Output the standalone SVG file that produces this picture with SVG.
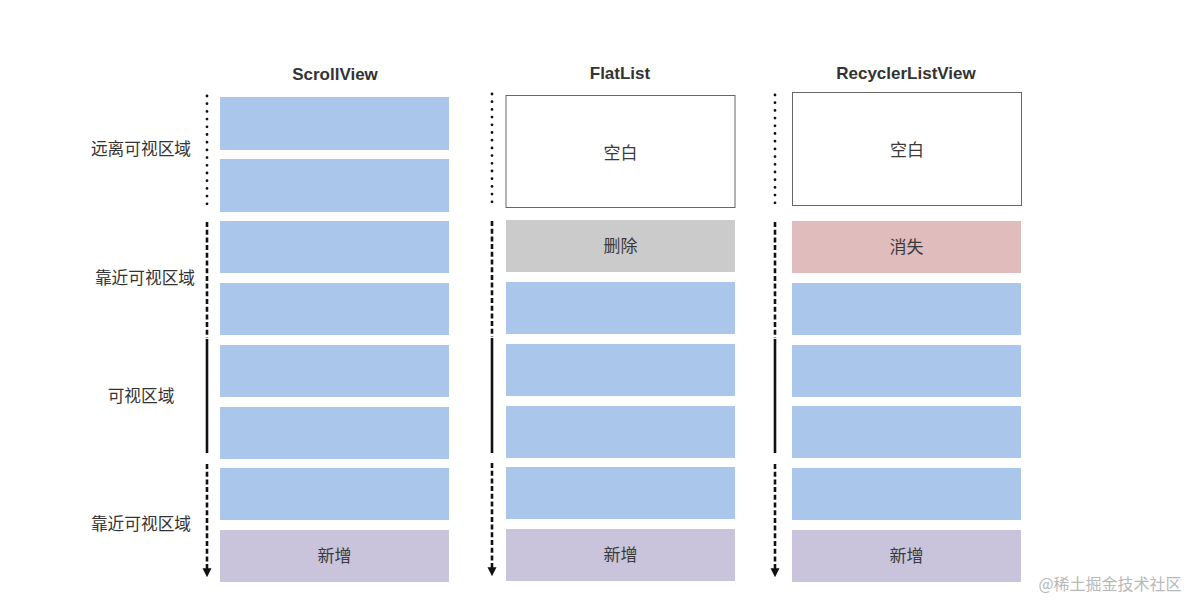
<svg xmlns="http://www.w3.org/2000/svg" width="1200" height="603" viewBox="0 0 1200 603">
<defs>
<marker id="arr" viewBox="0 0 10 10" refX="2" refY="5" markerWidth="9" markerHeight="10" markerUnits="userSpaceOnUse" orient="auto">
<path d="M0,0 L10,5 L0,10 Z" fill="#111"/>
</marker>
<style>
.t{font-family:"Liberation Sans","Noto Sans CJK SC",sans-serif;fill:#333;}
.title{font-size:17px;font-weight:600;text-anchor:middle;}
.lab{font-size:16.7px;text-anchor:middle;}
.in{font-size:17px;text-anchor:middle;fill:#3a3a3a;}
.blue{fill:#aac7eb;}
.new{fill:#c9c4db;}
.del{fill:#cbcbcb;}
.gone{fill:#e0bcbc;}
.blank{fill:#fff;stroke:#666;stroke-width:1;}
.dot{stroke:#111;stroke-width:2.8;stroke-linecap:round;stroke-dasharray:0 7.7;fill:none;}
.dash{stroke:#111;stroke-width:2.6;stroke-dasharray:5 2.7;fill:none;}
.solid{stroke:#111;stroke-width:2.6;fill:none;}
</style>
</defs>
<rect width="1200" height="603" fill="#fff"/>

<g id="titles">
<text class="t title" x="335" y="80">ScrollView</text>
<text class="t title" x="620" y="79">FlatList</text>
<text class="t title" x="906" y="79">RecyclerListView</text>
</g>

<g id="labels">
<text class="t lab" x="141" y="155">远离可视区域</text>
<text class="t lab" x="145" y="284">靠近可视区域</text>
<text class="t lab" x="141" y="402">可视区域</text>
<text class="t lab" x="141" y="530">靠近可视区域</text>
</g>

<g id="connectors">
<path class="dot" d="M207,96 V208"/>
<path class="dash" d="M207,222 V338"/>
<path class="solid" d="M207,339 V453"/>
<path class="dash" d="M207,464 V570" marker-end="url(#arr)"/>

<path class="dot" d="M492,94 V206"/>
<path class="dash" d="M492,221 V337"/>
<path class="solid" d="M492,338 V453"/>
<path class="dash" d="M492,463 V569" marker-end="url(#arr)"/>

<path class="dot" d="M775,95 V206"/>
<path class="dash" d="M775,222 V338"/>
<path class="solid" d="M775,339 V453"/>
<path class="dash" d="M775,464 V570" marker-end="url(#arr)"/>
</g>

<g id="scrollview">
<rect class="blue" x="220" y="97" width="229" height="53"/>
<rect class="blue" x="220" y="159" width="229" height="53"/>
<rect class="blue" x="220" y="221" width="229" height="52"/>
<rect class="blue" x="220" y="283" width="229" height="52"/>
<rect class="blue" x="220" y="345" width="229" height="52"/>
<rect class="blue" x="220" y="407" width="229" height="52"/>
<rect class="blue" x="220" y="468" width="229" height="52"/>
<g id="sv-new">
<rect class="new" x="220" y="530" width="229" height="52"/>
<text class="t in" x="334.5" y="562">新增</text>
</g>
</g>

<g id="flatlist">
<g id="fl-blank">
<rect class="blank" x="506" y="95.5" width="229" height="112"/>
<text class="t in" x="620.5" y="159">空白</text>
</g>
<g id="fl-del">
<rect class="del" x="506" y="220" width="229" height="52"/>
<text class="t in" x="620.5" y="252">删除</text>
</g>
<rect class="blue" x="506" y="282" width="229" height="52"/>
<rect class="blue" x="506" y="344" width="229" height="52"/>
<rect class="blue" x="506" y="406" width="229" height="52"/>
<rect class="blue" x="506" y="467" width="229" height="52"/>
<g id="fl-new">
<rect class="new" x="506" y="529" width="229" height="52"/>
<text class="t in" x="620.5" y="561">新增</text>
</g>
</g>

<g id="recycler">
<g id="rl-blank">
<rect class="blank" x="792.5" y="92.5" width="229" height="113"/>
<text class="t in" x="907" y="156">空白</text>
</g>
<g id="rl-gone">
<rect class="gone" x="792" y="221" width="229" height="52"/>
<text class="t in" x="906.5" y="253">消失</text>
</g>
<rect class="blue" x="792" y="283" width="229" height="52"/>
<rect class="blue" x="792" y="345" width="229" height="52"/>
<rect class="blue" x="792" y="406" width="229" height="52"/>
<rect class="blue" x="792" y="468" width="229" height="52"/>
<g id="rl-new">
<rect class="new" x="792" y="530" width="229" height="52"/>
<text class="t in" x="906.5" y="562">新增</text>
</g>
</g>

<text x="1110" y="590" font-family="'Noto Sans CJK SC',sans-serif" font-size="16" fill="#b8b8b8" text-anchor="middle">@稀土掘金技术社区</text>
</svg>
